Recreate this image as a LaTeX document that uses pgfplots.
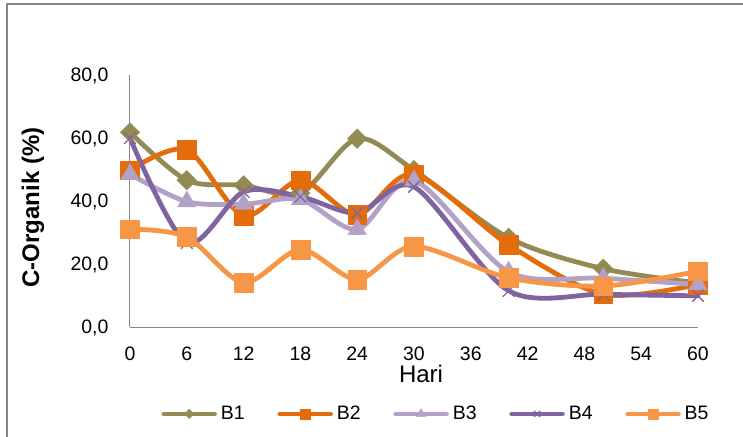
\documentclass[border=0pt]{standalone}
\usepackage{pgfplots}
\pgfplotsset{compat=1.18}
\usepackage{fontspec}
\setmainfont{Liberation Sans}
\definecolor{cB1}{HTML}{948A54}
\definecolor{cB2}{HTML}{E46C0A}
\definecolor{cB3}{HTML}{B3A2C7}
\definecolor{cB4}{HTML}{8064A2}
\definecolor{cB5}{HTML}{F79646}
\definecolor{framegray}{HTML}{868686}
\pgfplotsset{
  legmark/.style={legend image code/.code={\draw[mark repeat=2,mark phase=2,##1,mark size=#1] plot coordinates {(0pt,0pt) (19pt,0pt) (38pt,0pt)};}}
}
\begin{document}
\begin{tikzpicture}
\useasboundingbox (0pt,0pt) rectangle (557.25pt,-327pt);
\draw[framegray, line width=1.5pt] (5.25pt,-330pt) -- (5.25pt,-3pt) -- (560pt,-3pt);
\begin{axis}[
  at={(97.5pt,-245.25pt)}, anchor=south west,
  scale only axis, width=426pt, height=189pt,
  xmin=0, xmax=60, ymin=0, ymax=80,
  axis x line*=bottom, axis y line*=left,
  axis line style={framegray, line width=0.75pt, -},
  major tick length=0pt,
  xtick={0,6,...,60}, xticklabels={0,6,12,18,24,30,36,42,48,54,60},
  ytick={0,20,40,60,80}, yticklabels={{0,0},{20,0},{40,0},{60,0},{80,0}},
  tick label style={font=\fontsize{14.6}{16}\selectfont, inner sep=0pt},
  xticklabel style={anchor=north, yshift=-15pt},
  yticklabel style={anchor=base east, xshift=-16pt, yshift=-5.2pt},
  clip=false,
  every axis plot/.append style={line width=3.6pt, smooth, tension=0.5, line cap=round, line join=round},
  legend columns=5,
  legend style={at={(axis description cs:0.537,-0.345)}, anchor=center, draw=none, fill=none,
    font=\fontsize{14.6}{16}\selectfont, nodes={inner sep=0pt},
    /tikz/every odd column/.style={column sep=3pt},
    /tikz/every even column/.style={column sep=24.5pt}},
]
\addplot[color=cB1, mark=square*, mark size=5.2pt, mark options={rotate=45, line width=0.3pt}, legmark=2.5pt]
coordinates {(0,61.8) (6,46.6) (12,45.0) (18,42.5) (24,59.8) (30,49.8) (40,28.3) (50,18.5) (60,14.0)};
\addlegendentry{B1}
\addplot[color=cB2, mark=square*, mark size=7pt, mark options={line width=0.3pt}, legmark=3.6pt]
coordinates {(0,49.8) (6,56.3) (12,35.3) (18,46.6) (24,35.6) (30,48.5) (40,26.1) (50,10.4) (60,13.5)};
\addlegendentry{B2}
\addplot[color=cB3, mark=triangle*, mark size=8pt, mark options={line width=0.3pt}, legmark=4pt]
coordinates {(0,48.5) (6,39.8) (12,39.0) (18,40.5) (24,31.0) (30,46.5) (40,17.5) (50,15.5) (60,13.5)};
\addlegendentry{B3}
\addplot[color=cB4, mark=x, mark size=6pt, mark options={line width=1pt}, legmark=3pt]
coordinates {(0,60.0) (6,26.7) (12,42.9) (18,41.4) (24,36.2) (30,44.5) (40,11.5) (50,10.4) (60,9.9)};
\addlegendentry{B4}
\addplot[color=cB5, mark=square*, mark size=7pt, mark options={line width=0.3pt}, legmark=3.6pt]
coordinates {(0,31.1) (6,28.6) (12,14.1) (18,24.6) (24,15.1) (30,25.6) (40,15.6) (50,13.0) (60,17.7)};
\addlegendentry{B5}
\end{axis}
\node[anchor=base, font=\fontsize{18}{20}\selectfont] at (315.75pt,-286.5pt) {Hari};
\node[rotate=90, anchor=center, font=\fontsize{18}{20}\selectfont\bfseries] at (24.75pt,-155.6pt) {C-Organik (\%)};
\end{tikzpicture}
\end{document}
